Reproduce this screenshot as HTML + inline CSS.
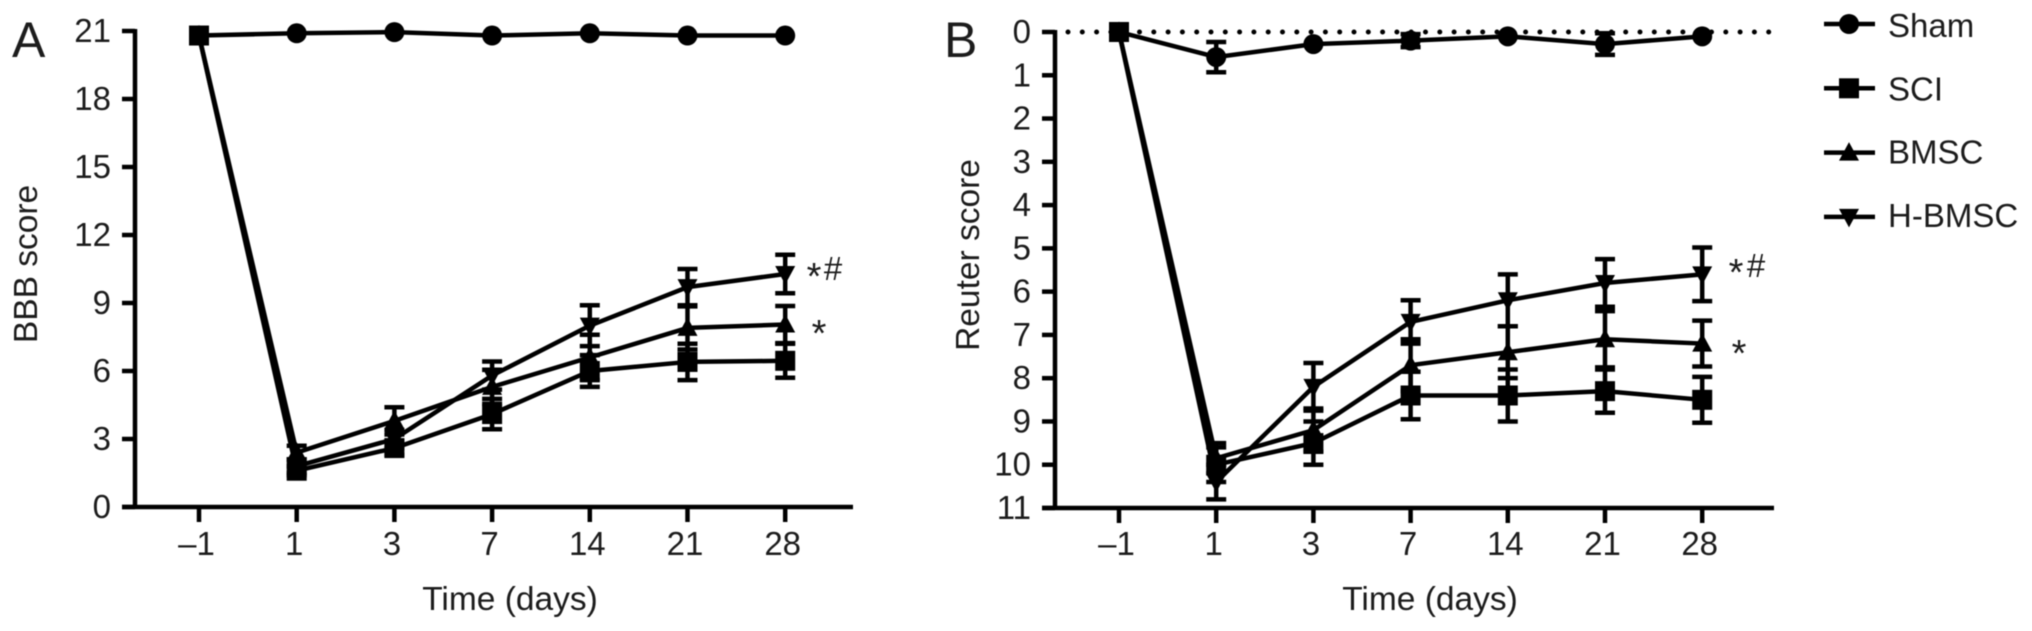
<!DOCTYPE html>
<html>
<head>
<meta charset="utf-8">
<title>BBB and Reuter score charts</title>
<style>
html,body{margin:0;padding:0;background:#fff;}
#fig{display:block;width:2032px;height:631px;filter:blur(0.6px);}
text{font-family:"Liberation Sans",sans-serif;fill:#1c1c1c;font-size:33px;}
</style>
</head>
<body>
<svg id="fig" xmlns="http://www.w3.org/2000/svg" width="2032" height="631" viewBox="0 0 2032 631"></svg>
<script>
// Shared categories and labels
const days = ["\u20131", "1", "3", "7", "14", "21", "28"];
const seriesNames = ["Sham", "SCI", "BMSC", "H-BMSC"];
const bbbTicks = [0, 3, 6, 9, 12, 15, 18, 21];
const reuterTicks = [0, 1, 2, 3, 4, 5, 6, 7, 8, 9, 10, 11];

// Panel A: BBB score
const bbbSham = [20.8, 20.9, 20.95, 20.8, 20.9, 20.8, 20.8];
const bbbSci = [20.8, 1.6, 2.6, 4.1, 6.0, 6.4, 6.45];
const bbbBmsc = [20.8, 2.4, 3.8, 5.3, 6.6, 7.9, 8.05];
const bbbHbmsc = [20.8, 1.8, 3.0, 5.8, 8.0, 9.7, 10.28];
const bbbShamErr = [0, 0, 0, 0, 0, 0, 0];
const bbbSciErr = [0, 0.2, 0.3, 0.67, 0.7, 0.8, 0.75];
const bbbBmscErr = [0, 0.3, 0.6, 0.75, 1.0, 0.95, 0.82];
const bbbHbmscErr = [0, 0.3, 0.4, 0.62, 0.9, 0.8, 0.85];

// Panel B: Reuter score (inverted axis)
const reuterSham = [0, 0.58, 0.28, 0.2, 0.1, 0.28, 0.1];
const reuterSci = [0, 10.0, 9.5, 8.4, 8.4, 8.3, 8.5];
const reuterBmsc = [0, 9.85, 9.2, 7.7, 7.4, 7.1, 7.2];
const reuterHbmsc = [0, 10.4, 8.2, 6.7, 6.2, 5.8, 5.6];
const reuterShamErr = [0, 0.35, 0, 0.15, 0, 0.25, 0];
const reuterSciErr = [0, 0.4, 0.5, 0.55, 0.6, 0.5, 0.53];
const reuterBmscErr = [0, 0.35, 0.5, 0.6, 0.6, 0.65, 0.53];
const reuterHbmscErr = [0, 0.4, 0.55, 0.5, 0.6, 0.55, 0.62];

const NS = "http://www.w3.org/2000/svg";
const svg = document.getElementById("fig");

function make(tag, attrs, parent, content) {
  const el = document.createElementNS(NS, tag);
  for (const k in attrs) el.setAttribute(k, attrs[k]);
  if (content !== undefined) el.textContent = content;
  parent.appendChild(el);
  return el;
}

function drawMarker(parent, shape, cx, cy, s) {
  if (shape === "circle") {
    const m = make("circle", {cx: cx, cy: cy, r: s, fill: "#000"}, parent);
    
    
  } else if (shape === "square") {
    const m = make("rect", {x: cx - s, y: cy - s, width: 2 * s, height: 2 * s, fill: "#000"}, parent);
    
    
  } else if (shape === "up") {
    const m = make("polygon", {points: [cx, cy - s * 1.05, cx + s, cy + s * 0.8, cx - s, cy + s * 0.8].join(" "), fill: "#000"}, parent);
    
    
  } else {
    const m = make("polygon", {points: [cx, cy + s * 1.05, cx + s, cy - s * 0.8, cx - s, cy - s * 0.8].join(" "), fill: "#000"}, parent);
    
    
  }
}

function drawPanel(cfg) {
  const g = make("g", {}, svg);
  
  

  const xPos = i => cfg.x0 + i * cfg.dx;
  const yPos = v => cfg.yA + (v - cfg.vA) * (cfg.yB - cfg.yA) / (cfg.vB - cfg.vA);

  if (cfg.dotted) {
    const d = make("line", {x1: cfg.spine + 13, x2: cfg.xEnd, y1: yPos(0), y2: yPos(0), stroke: "#000", "stroke-width": 5, "stroke-dasharray": "0 14.3", "stroke-linecap": "round"}, g);
    
    
  }

  // axes
  const axisY = yPos(cfg.axisV);
  const ya = make("line", {x1: cfg.spine, x2: cfg.spine, y1: Math.min(yPos(cfg.vA), yPos(cfg.vB)) - 2, y2: axisY + 2, stroke: "#000", "stroke-width": 4.5}, g);
  
  
  const xa = make("line", {x1: cfg.spine - 13, x2: cfg.xEnd, y1: axisY, y2: axisY, stroke: "#000", "stroke-width": 4.5}, g);
  
  

  cfg.yTicks.forEach(v => {
    const t = make("line", {x1: cfg.spine - 13, x2: cfg.spine, y1: yPos(v), y2: yPos(v), stroke: "#000", "stroke-width": 4.5}, g);
    
    
    const l = make("text", {x: cfg.spine - 24, y: yPos(v) + 11, "text-anchor": "end"}, g, String(v));
    
    
  });
  days.forEach((d, i) => {
    const t = make("line", {x1: xPos(i), x2: xPos(i), y1: axisY, y2: axisY + 15, stroke: "#000", "stroke-width": 4.5}, g);
    
    
    const l = make("text", {x: xPos(i) - 2.5, y: 555, "text-anchor": "middle"}, g, d);
    
    
  });

  // series
  cfg.series.forEach(s => {
    const sg = make("g", {}, g);
    
    
    const pts = s.values.map((v, i) => xPos(i) + "," + yPos(v)).join(" ");
    const pl = make("polyline", {points: pts, fill: "none", stroke: "#000", "stroke-width": 4.5, "stroke-linejoin": "round"}, sg);
    
    
    s.values.forEach((v, i) => {
      const e = s.err[i];
      const x = xPos(i);
      if (e > 0) {
        const bar = make("line", {x1: x, x2: x, y1: yPos(v - e), y2: yPos(v + e), stroke: "#000", "stroke-width": 4.5}, sg);
        
        
        [v - e, v + e].forEach(c => {
          const cap = make("line", {x1: x - 10, x2: x + 10, y1: yPos(c), y2: yPos(c), stroke: "#000", "stroke-width": 4.5}, sg);
          
          
        });
      }
      drawMarker(sg, s.shape, x, yPos(v), 10);
    });
  });

  // labels
  const letter = make("text", {x: cfg.letterX, y: 57, style: "font-size:50px"}, g, cfg.letter);
  
  
  const yt = make("text", {transform: "translate(" + cfg.yTitleX + "," + cfg.yTitleY + ") rotate(-90)", "text-anchor": "middle", style: "font-size:33.5px"}, g, cfg.yTitle);
  
  
  const xt = make("text", {x: cfg.xTitleX, y: 610, "text-anchor": "middle", style: "font-size:33.5px"}, g, "Time (days)");
  
  

  cfg.notes.forEach(n => {
    const a = make("text", {x: n.x, y: n.y, "text-anchor": "middle", style: "font-size:" + n.s + "px"}, g, n.t);
    
    
  });
}

drawPanel({
  name: "bbb-score-panel", letter: "A", letterX: 12, spine: 135, x0: 199, dx: 97.7, xEnd: 853,
  yA: 31, vA: 21, yB: 507, vB: 0, axisV: 0, yTicks: bbbTicks,
  yTitle: "BBB score", yTitleX: 37, yTitleY: 264, xTitleX: 510,
  series: [
    {label: "H-BMSC", shape: "down", values: bbbHbmsc, err: bbbHbmscErr},
    {label: "BMSC", shape: "up", values: bbbBmsc, err: bbbBmscErr},
    {label: "Sham", shape: "circle", values: bbbSham, err: bbbShamErr},
    {label: "SCI", shape: "square", values: bbbSci, err: bbbSciErr}
  ],
  notes: [{x: 814, y: 289, t: "*", s: 38}, {x: 833, y: 280, t: "#", s: 33}, {x: 819, y: 346, t: "*", s: 38}]
});

drawPanel({
  name: "reuter-score-panel", letter: "B", letterX: 944, spine: 1055, x0: 1119, dx: 97.2, xEnd: 1774, dotted: true,
  yA: 32, vA: 0, yB: 508, vB: 11, axisV: 11, yTicks: reuterTicks,
  yTitle: "Reuter score", yTitleX: 979, yTitleY: 255, xTitleX: 1430,
  series: [
    {label: "H-BMSC", shape: "down", values: reuterHbmsc, err: reuterHbmscErr},
    {label: "BMSC", shape: "up", values: reuterBmsc, err: reuterBmscErr},
    {label: "Sham", shape: "circle", values: reuterSham, err: reuterShamErr},
    {label: "SCI", shape: "square", values: reuterSci, err: reuterSciErr}
  ],
  notes: [{x: 1736, y: 285, t: "*", s: 38}, {x: 1756, y: 277, t: "#", s: 33}, {x: 1739, y: 366, t: "*", s: 38}]
});

// Legend
const legend = make("g", {}, svg);


const legendShapes = ["circle", "square", "up", "down"];
seriesNames.forEach((n, i) => {
  const y = 24 + i * 64.3;
  const e = make("g", {}, legend);
  
  
  const l = make("line", {x1: 1824, x2: 1875, y1: y, y2: y, stroke: "#000", "stroke-width": 4.5}, e);
  
  
  drawMarker(e, legendShapes[i], 1849, y, 10);
  const t = make("text", {x: 1888, y: 37 + i * 63.3}, e, n);
  
  
});
</script>
</body>
</html>
